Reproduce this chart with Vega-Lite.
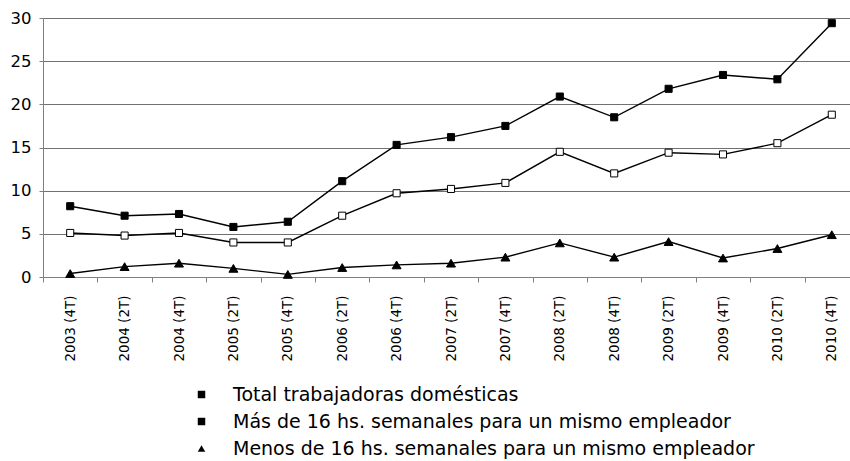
{
  "$schema": "https://vega.github.io/schema/vega-lite/v6.json",
  "width": 807,
  "height": 259,
  "autosize": {"type": "none"},
  "padding": {"left": 43, "top": 18, "right": 0, "bottom": 184},
  "background": "white",
  "config": {
    "view": {"stroke": null},
    "font": "DejaVu Sans",
    "legend": {
      "orient": "none",
      "legendX": 149,
      "legendY": 367,
      "padding": 0,
      "labelFont": "DejaVu Sans",
      "labelFontSize": 19,
      "labelColor": "black",
      "labelOffset": 22,
      "rowPadding": 7,
      "symbolStrokeWidth": 1.2,
      "symbolStrokeColor": "black",
      "symbolSize": 56,
      "labelLimit": 700
    }
  },
  "data": {
    "values": [
      {"periodo": "2003 (4T)", "serie": "Total trabajadoras domésticas", "valor": 5.1},
      {"periodo": "2004 (2T)", "serie": "Total trabajadoras domésticas", "valor": 4.8},
      {"periodo": "2004 (4T)", "serie": "Total trabajadoras domésticas", "valor": 5.1},
      {"periodo": "2005 (2T)", "serie": "Total trabajadoras domésticas", "valor": 4.0},
      {"periodo": "2005 (4T)", "serie": "Total trabajadoras domésticas", "valor": 4.0},
      {"periodo": "2006 (2T)", "serie": "Total trabajadoras domésticas", "valor": 7.1},
      {"periodo": "2006 (4T)", "serie": "Total trabajadoras domésticas", "valor": 9.7},
      {"periodo": "2007 (2T)", "serie": "Total trabajadoras domésticas", "valor": 10.2},
      {"periodo": "2007 (4T)", "serie": "Total trabajadoras domésticas", "valor": 10.9},
      {"periodo": "2008 (2T)", "serie": "Total trabajadoras domésticas", "valor": 14.5},
      {"periodo": "2008 (4T)", "serie": "Total trabajadoras domésticas", "valor": 12.0},
      {"periodo": "2009 (2T)", "serie": "Total trabajadoras domésticas", "valor": 14.4},
      {"periodo": "2009 (4T)", "serie": "Total trabajadoras domésticas", "valor": 14.2},
      {"periodo": "2010 (2T)", "serie": "Total trabajadoras domésticas", "valor": 15.5},
      {"periodo": "2010 (4T)", "serie": "Total trabajadoras domésticas", "valor": 18.8},
      {"periodo": "2003 (4T)", "serie": "Más de 16 hs. semanales para un mismo empleador", "valor": 8.2},
      {"periodo": "2004 (2T)", "serie": "Más de 16 hs. semanales para un mismo empleador", "valor": 7.1},
      {"periodo": "2004 (4T)", "serie": "Más de 16 hs. semanales para un mismo empleador", "valor": 7.3},
      {"periodo": "2005 (2T)", "serie": "Más de 16 hs. semanales para un mismo empleador", "valor": 5.8},
      {"periodo": "2005 (4T)", "serie": "Más de 16 hs. semanales para un mismo empleador", "valor": 6.4},
      {"periodo": "2006 (2T)", "serie": "Más de 16 hs. semanales para un mismo empleador", "valor": 11.1},
      {"periodo": "2006 (4T)", "serie": "Más de 16 hs. semanales para un mismo empleador", "valor": 15.3},
      {"periodo": "2007 (2T)", "serie": "Más de 16 hs. semanales para un mismo empleador", "valor": 16.2},
      {"periodo": "2007 (4T)", "serie": "Más de 16 hs. semanales para un mismo empleador", "valor": 17.5},
      {"periodo": "2008 (2T)", "serie": "Más de 16 hs. semanales para un mismo empleador", "valor": 20.9},
      {"periodo": "2008 (4T)", "serie": "Más de 16 hs. semanales para un mismo empleador", "valor": 18.5},
      {"periodo": "2009 (2T)", "serie": "Más de 16 hs. semanales para un mismo empleador", "valor": 21.8},
      {"periodo": "2009 (4T)", "serie": "Más de 16 hs. semanales para un mismo empleador", "valor": 23.4},
      {"periodo": "2010 (2T)", "serie": "Más de 16 hs. semanales para un mismo empleador", "valor": 22.9},
      {"periodo": "2010 (4T)", "serie": "Más de 16 hs. semanales para un mismo empleador", "valor": 29.4},
      {"periodo": "2003 (4T)", "serie": "Menos de 16 hs. semanales para un mismo empleador", "valor": 0.4},
      {"periodo": "2004 (2T)", "serie": "Menos de 16 hs. semanales para un mismo empleador", "valor": 1.2},
      {"periodo": "2004 (4T)", "serie": "Menos de 16 hs. semanales para un mismo empleador", "valor": 1.6},
      {"periodo": "2005 (2T)", "serie": "Menos de 16 hs. semanales para un mismo empleador", "valor": 1.0},
      {"periodo": "2005 (4T)", "serie": "Menos de 16 hs. semanales para un mismo empleador", "valor": 0.3},
      {"periodo": "2006 (2T)", "serie": "Menos de 16 hs. semanales para un mismo empleador", "valor": 1.1},
      {"periodo": "2006 (4T)", "serie": "Menos de 16 hs. semanales para un mismo empleador", "valor": 1.4},
      {"periodo": "2007 (2T)", "serie": "Menos de 16 hs. semanales para un mismo empleador", "valor": 1.6},
      {"periodo": "2007 (4T)", "serie": "Menos de 16 hs. semanales para un mismo empleador", "valor": 2.3},
      {"periodo": "2008 (2T)", "serie": "Menos de 16 hs. semanales para un mismo empleador", "valor": 3.95},
      {"periodo": "2008 (4T)", "serie": "Menos de 16 hs. semanales para un mismo empleador", "valor": 2.3},
      {"periodo": "2009 (2T)", "serie": "Menos de 16 hs. semanales para un mismo empleador", "valor": 4.1},
      {"periodo": "2009 (4T)", "serie": "Menos de 16 hs. semanales para un mismo empleador", "valor": 2.2},
      {"periodo": "2010 (2T)", "serie": "Menos de 16 hs. semanales para un mismo empleador", "valor": 3.3},
      {"periodo": "2010 (4T)", "serie": "Menos de 16 hs. semanales para un mismo empleador", "valor": 4.9}
    ]
  },
  "encoding": {
    "x": {
      "field": "periodo",
      "type": "nominal",
      "sort": null,
      "bandPosition": 0.5,
      "scale": {"type": "band", "range": [0, 816], "paddingInner": 0, "paddingOuter": 0},
      "axis": {
        "title": null,
        "labelAngle": -90,
        "labelFont": "DejaVu Sans",
        "labelFontSize": 13.5,
        "labelColor": "black",
        "labelPadding": 13,
        "tickBand": "extent",
        "tickSize": 5,
        "tickColor": "#808080",
        "domainColor": "#808080",
        "grid": false
      }
    },
    "y": {
      "field": "valor",
      "type": "quantitative",
      "scale": {"domain": [0, 30], "nice": false},
      "axis": {
        "title": null,
        "values": [0, 5, 10, 15, 20, 25, 30],
        "labelFont": "DejaVu Sans",
        "labelFontSize": 16.5,
        "labelColor": "black",
        "labelPadding": 8,
        "tickSize": 4,
        "tickColor": "#808080",
        "domainColor": "#808080",
        "grid": true,
        "gridColor": "#707070",
        "gridWidth": 1,
        "gridOpacity": 1
      }
    }
  },
  "layer": [
    {
      "mark": {"type": "line", "color": "black", "strokeWidth": 1.4},
      "encoding": {"detail": {"field": "serie", "type": "nominal"}}
    },
    {
      "mark": {"type": "point", "filled": true, "stroke": "black", "strokeWidth": 1, "opacity": 1},
      "encoding": {
        "shape": {
          "field": "serie",
          "type": "nominal",
          "scale": {
            "domain": ["Total trabajadoras domésticas", "Más de 16 hs. semanales para un mismo empleador", "Menos de 16 hs. semanales para un mismo empleador"],
            "range": ["square", "square", "triangle-up"]
          },
          "legend": {"title": null}
        },
        "fill": {
          "condition": {"test": "(datum.serie || datum.value) === 'Total trabajadoras domésticas'", "value": "white"},
          "value": "black"
        },
        "size": {
          "condition": {"test": "(datum.serie || datum.value) === 'Menos de 16 hs. semanales para un mismo empleador'", "value": 80},
          "value": 50
        }
      }
    }
  ]
}
